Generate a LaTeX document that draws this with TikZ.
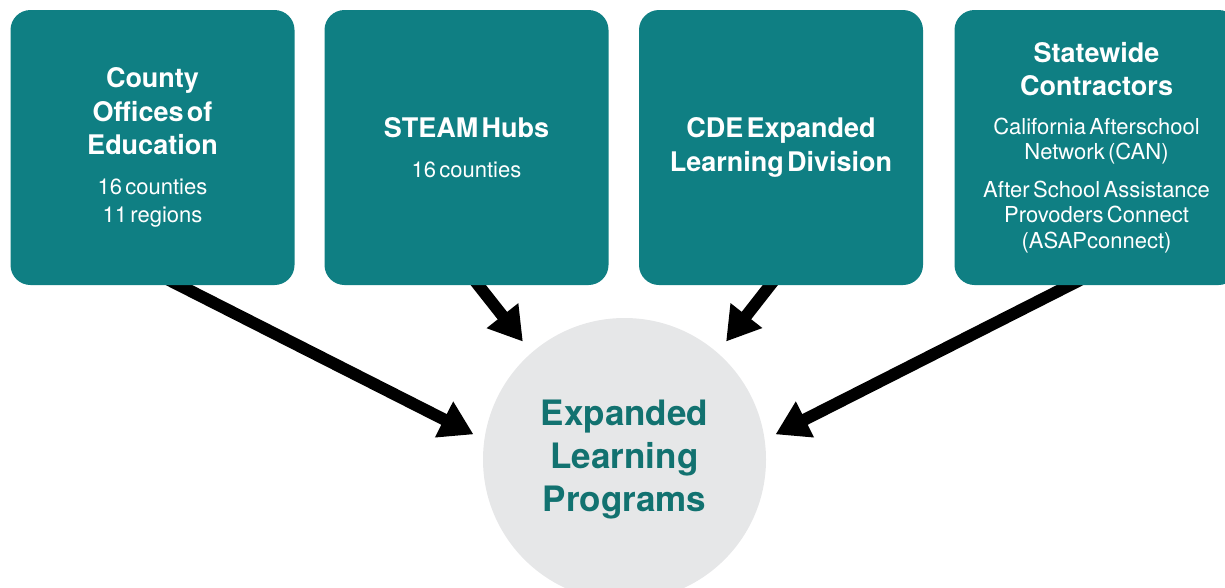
\documentclass[tikz,border=0pt]{standalone}
\usepackage{fontspec}
\setmainfont{TeX Gyre Heros}
\usepackage{xcolor}
\usetikzlibrary{arrows.meta,backgrounds}

\definecolor{tealbox}{HTML}{0F7F83}
\definecolor{circlegray}{HTML}{E6E7E8}
\definecolor{tealtext}{HTML}{127270}
\newcommand{\boxtitle}{\fontsize{27}{33.5}\selectfont\bfseries}
\newcommand{\boxsub}[1][28]{\fontsize{22}{#1}\selectfont\mdseries}

\begin{document}
\begin{tikzpicture}[x=1pt, y=-1pt,
    source/.style={fill=tealbox, rounded corners=20pt, minimum width=284pt, minimum height=275pt,
        text width=272pt, align=center, text=white, inner sep=0pt},
    target/.style={circle, fill=circlegray, minimum size=283pt, text width=200pt, align=center,
        text=tealtext, font=\fontsize{35}{43}\selectfont\bfseries, inner sep=0pt},
    flow/.style={line width=12pt, -{Triangle[width=38pt,length=33pt]}}]
                \useasboundingbox (0,0) rectangle (1225,587);

                \node[source] (coe) at (152.5,147.5) {\boxtitle County\\ Offices of\\ Education\\[12pt]
                    \boxsub 16 counties\\ 11 regions\par};
                \node[source] (steam) at (466.5,147.5) {\boxtitle STEAM Hubs\\[12pt]
                    \boxsub 16 counties\par};
                \node[source] (cde) at (781,147.5) {\boxtitle CDE Expanded\\ Learning Division\par};
                \node[source] (state) at (1096.5,147.5) {\boxtitle Statewide\\ Contractors\\[13pt]
                    \boxsub[25.5] California Afterschool\\ Network (CAN)\\[12pt]
                    After School Assistance\\ Provoders Connect\\ (ASAPconnect)\par};

                \node[target] (elp) at (624.5,459.5) {Expanded\\ Learning\\ Programs\par};

                \begin{scope}[on background layer]
                    \draw[flow, shorten >=12pt] ([xshift=7pt,yshift=10pt]coe.south) -- (elp.172);
                    \draw[flow, shorten >=14pt] ([xshift=4pt,yshift=10pt]steam.south) -- (elp.131);
                    \draw[flow, shorten >=14pt] ([xshift=-3pt,yshift=10pt]cde.south) -- (elp.49);
                    \draw[flow, shorten >=12pt] ([xshift=-7pt,yshift=10pt]state.south) -- (elp.8);
                \end{scope}
            \end{tikzpicture}
\end{document}
